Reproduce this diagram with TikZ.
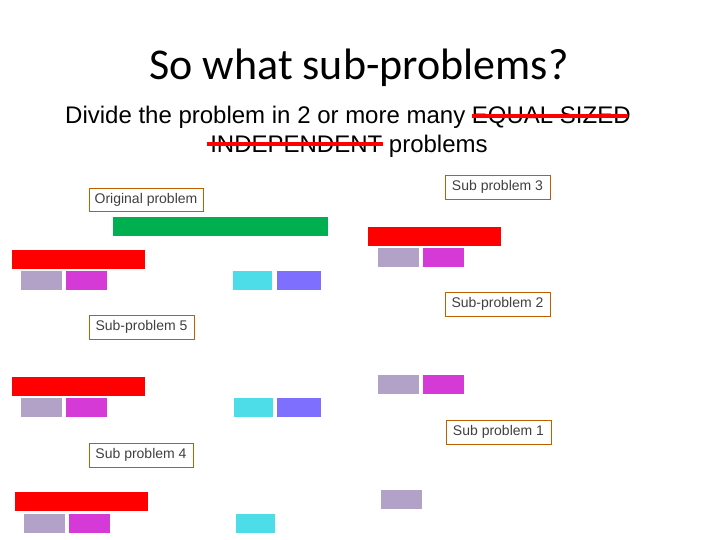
\documentclass[tikz,border=0pt]{standalone}
\usepackage{fontspec}
\setmainfont{Liberation Sans}
\newfontfamily\titlefont{Carlito}
\begin{document}
\begin{tikzpicture}[x=1pt,y=-1pt,
 lbl/.style={draw=orange!75!black,line width=0.6pt,inner sep=0pt,font=\fontsize{14}{16}\selectfont,text=black!75},
 blk/.style={inner sep=0pt}]
\useasboundingbox (0,0) rectangle (720,540);
\definecolor{rd}{HTML}{FF0000}\definecolor{gr}{HTML}{00B050}
\definecolor{li}{HTML}{B3A2C7}\definecolor{mg}{HTML}{D63AD6}
\definecolor{cy}{HTML}{4DDDE8}\definecolor{pu}{HTML}{7F6FFF}
\node[font=\titlefont\fontsize{44}{50}\selectfont] (title) at (359,68) {So what sub-problems?};
\node[font=\fontsize{24}{28}\selectfont,anchor=west,inner sep=0pt] (l1) at (65,117) {Divide the problem in 2 or more many EQUAL SIZED};
\node[font=\fontsize{24}{28}\selectfont,inner sep=0pt] (l2) at (349,146) {INDEPENDENT problems};
\coordinate (s1a) at (472,116); \coordinate (s1b) at (628,116);
\coordinate (s2a) at (207,144); \coordinate (s2b) at (383,144);
\draw[rd,line width=3.5pt] (s1a) -- (s1b);
\draw[rd,line width=3.5pt] (s2a) -- (s2b);
\node[lbl,minimum width=114pt,minimum height=23pt] (o) at (146,199.5) {Original problem};
\node[lbl,minimum width=105pt,minimum height=24pt] (s3) at (497.5,187) {Sub problem 3};
\node[lbl,minimum width=105pt,minimum height=24pt] (s2) at (497.5,304) {Sub-problem 2};
\node[lbl,minimum width=105pt,minimum height=24pt] (s5) at (141.5,327) {Sub-problem 5};
\node[lbl,minimum width=105pt,minimum height=24pt] (s1) at (498.5,432) {Sub problem 1};
\node[lbl,minimum width=104pt,minimum height=24pt] (s4) at (141,455) {Sub problem 4};
\fill[gr] (113,217) rectangle (328,236);
\foreach \x/\y in {12/250,368/227,12/377,15/492} \fill[rd] (\x,\y) rectangle ++(133,19);
\foreach \x/\y in {21/271,378/248,21/398,378/375,24/514,381/490} \fill[li] (\x,\y) rectangle ++(41,19);
\foreach \x/\y in {66/271,423/248,66/398,423/375,69/514} \fill[mg] (\x,\y) rectangle ++(41,19);
\foreach \x/\y in {233/271,234/398,236/514} \fill[cy] (\x,\y) rectangle ++(39,19);
\foreach \x/\y in {277/271,277/398} \fill[pu] (\x,\y) rectangle ++(44,19);
\end{tikzpicture}
\end{document}
